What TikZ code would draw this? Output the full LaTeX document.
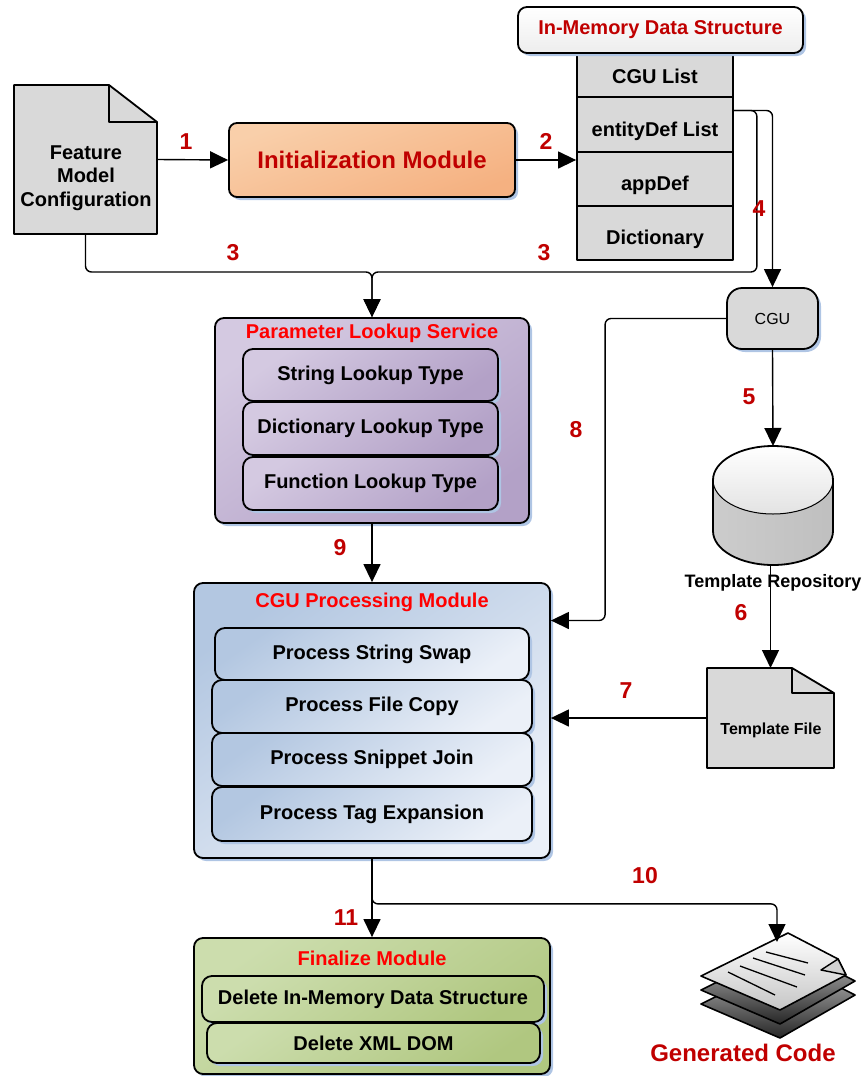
\documentclass[tikz,border=0pt]{standalone}
\usepackage{fontspec}
\setmainfont{Liberation Sans}
\usetikzlibrary{arrows.meta,shadows,calc}

\definecolor{numred}{HTML}{C00000}
\definecolor{titlered}{HTML}{FF0000}
\definecolor{docgray}{HTML}{D9D9D9}
\definecolor{shadowblue}{HTML}{AFC5E4}
\definecolor{orangeA}{HTML}{F9CFAA}
\definecolor{orangeB}{HTML}{F5B181}
\definecolor{purpleA}{HTML}{D4C9E1}
\definecolor{purpleB}{HTML}{B3A1C7}
\definecolor{blueA}{HTML}{B3C7E1}
\definecolor{blueB}{HTML}{EBF0F8}
\definecolor{greenA}{HTML}{CCDDAD}
\definecolor{greenB}{HTML}{B0C780}

\tikzset{
  base/.style={font=\fontsize{20}{23.5}\selectfont\bfseries, text=black},
  framed/.style={draw=black, line width=1.8pt},
  shad/.style={drop shadow={shadow xshift=3pt, shadow yshift=-3pt, fill=shadowblue, opacity=1}},
  conn/.style={line width=1.4pt, draw=black, rounded corners=6pt},
  arr/.style={conn, -{Triangle[length=18pt,width=17pt]}},
  num/.style={font=\fontsize{23}{26}\selectfont\bfseries, text=numred},
  title/.style={font=\fontsize{20}{23}\selectfont\bfseries, text=titlered},
  anchorbox/.style={inner sep=0pt, outer sep=0pt},
  stackrow/.style={framed, fill=docgray, minimum width=156pt, inner sep=0pt},
  purplebox/.style={framed, rounded corners=10pt, top color=purpleA, bottom color=purpleB, shading angle=35, shad, inner sep=0pt},
  bluebox/.style={framed, rounded corners=10pt, top color=blueA, bottom color=blueB, shading angle=35, shad, inner sep=0pt},
  greenbox/.style={framed, rounded corners=10pt, top color=greenA, bottom color=greenB, shading angle=35, shad, inner sep=0pt},
}

\begin{document}
\begin{tikzpicture}[x=1pt, y=-1pt, line join=round]
\useasboundingbox (0,0) rectangle (865,1076);

% ---------- Feature model configuration (document shape)
\node[anchorbox, minimum width=143pt, minimum height=149pt] (fmc) at (85.5,159.5) {};
\draw[framed, fill=docgray] (fmc.north west) -- ([xshift=-48pt]fmc.north east)
  -- ([yshift=-37pt]fmc.north east) -- (fmc.south east) -- (fmc.south west) -- cycle;
\draw[framed] ([xshift=-48pt]fmc.north east) |- ([yshift=-37pt]fmc.north east);
\node[base, align=center] (fmctext) at (86,178) {Feature\\Model\\Configuration};

% ---------- Initialization module
\node[framed, rounded corners=8pt, minimum width=286pt, minimum height=74pt,
      top color=orangeA, bottom color=orangeB, shading angle=20, shad,
      font=\fontsize{24}{28}\selectfont\bfseries, text=numred] (init) at (372,160) {Initialization Module};

% ---------- In-memory data structure
\node[stackrow, minimum height=44pt] (cgulist) at (655,75) {};
\node[stackrow, minimum height=55pt] (entity) at (655,124.5) {};
\node[stackrow, minimum height=54pt] (appdef) at (655,179) {};
\node[stackrow, minimum height=54pt] (dict) at (655,233) {};
\node[base] (cgulisttext) at (655,76) {CGU List};
\node[base] (entitytext) at (655,131) {entityDef List};
\node[base] (appdeftext) at (655,185) {appDef};
\node[base] (dicttext) at (655,239) {Dictionary};
\node[framed, rounded corners=9pt, minimum width=285pt, minimum height=46pt,
      top color=white, bottom color=gray!14, shad, base, text=numred] (memhdr) at (660.5,30) {In-Memory Data Structure};

% ---------- CGU
\node[framed, rounded corners=15pt, fill=docgray, minimum width=91pt, minimum height=61pt, shad,
      font=\fontsize{16}{19}\selectfont] (cgu) at (772.5,318.5) {CGU};

% ---------- Template repository (cylinder)
\node[anchorbox, minimum width=120pt, minimum height=119pt] (repo) at (773,505.5) {};
\fill[left color=gray!40, middle color=gray!8, right color=gray!50]
  (713,480) -- (713,531) arc[start angle=180, end angle=360, x radius=60pt, y radius=34pt] -- (833,480) -- cycle;
\fill[top color=white, bottom color=gray!22] (773,480) ellipse[x radius=60pt, y radius=34pt];
\draw[framed] (713,480) -- (713,531) arc[start angle=180, end angle=360, x radius=60pt, y radius=34pt] -- (833,480)
  arc[start angle=0, end angle=180, x radius=60pt, y radius=34pt];
\draw[line width=1pt] (713,480) arc[start angle=180, end angle=360, x radius=60pt, y radius=34pt];
\node[font=\fontsize{18}{21}\selectfont\bfseries] (repolabel) at (773,583) {Template Repository};

% ---------- Template file (document shape)
\node[anchorbox, minimum width=127pt, minimum height=100pt] (tfile) at (770.5,718) {};
\draw[framed, fill=docgray] (tfile.north west) -- ([xshift=-42pt]tfile.north east)
  -- ([yshift=-25pt]tfile.north east) -- (tfile.south east) -- (tfile.south west) -- cycle;
\draw[framed] ([xshift=-42pt]tfile.north east) |- ([yshift=-25pt]tfile.north east);
\node[font=\fontsize{16}{19}\selectfont\bfseries] (tfiletext) at (771,730) {Template File};

% ---------- Parameter lookup service
\node[framed, rounded corners=9pt, minimum width=314pt, minimum height=205pt,
      top color=purpleA, bottom color=purpleB, shading angle=35, shad] (pls) at (372,420.5) {};
\node[title] (plstitle) at (372,333) {Parameter Lookup Service};
\node[purplebox, minimum width=255pt, minimum height=52pt, base] (plsa) at (370.5,375) {String Lookup Type};
\node[purplebox, minimum width=255pt, minimum height=53pt, base] (plsb) at (370.5,428.5) {Dictionary Lookup Type};
\node[purplebox, minimum width=255pt, minimum height=53pt, base] (plsc) at (370.5,483.5) {Function Lookup Type};

% ---------- CGU processing module
\node[framed, rounded corners=9pt, minimum width=356pt, minimum height=275pt,
      top color=blueA, bottom color=blueB, shading angle=35, shad] (cpm) at (372,720.5) {};
\node[title] (cpmtitle) at (372,602) {CGU Processing Module};
\node[bluebox, minimum width=314pt, minimum height=52pt, base] (cpma) at (372,654) {Process String Swap};
\node[bluebox, minimum width=320pt, minimum height=53pt, base] (cpmb) at (372,706.5) {Process File Copy};
\node[bluebox, minimum width=320pt, minimum height=53pt, base] (cpmc) at (372,759.5) {Process Snippet Join};
\node[bluebox, minimum width=320pt, minimum height=54pt, base] (cpmd) at (372,814) {Process Tag Expansion};

% ---------- Finalize module
\node[framed, rounded corners=9pt, minimum width=356pt, minimum height=136pt,
      top color=greenA, bottom color=greenB, shading angle=35, shad] (fin) at (372,1006) {};
\node[title] (fintitle) at (372,958) {Finalize Module};
\node[greenbox, minimum width=342pt, minimum height=46pt, base] (fina) at (373,999) {Delete In-Memory Data Structure};
\node[greenbox, minimum width=333pt, minimum height=40pt, base] (finb) at (373.5,1043) {Delete XML DOM};

% ---------- Generated code (stack of pages)
\coordinate (gentop) at (777,942);
\foreach \dy in {28,14}{
  \draw[line width=1.6pt, top color=gray!45, bottom color=black!85]
    (701,976+\dy) -- (788,933+\dy) -- (855,967+\dy) -- (780,1010+\dy) -- cycle;
}
\draw[line width=1.6pt, top color=white, bottom color=gray!45]
  (701,976) -- (788,933) -- (838,959) -- (846,975) -- (780,1010) -- cycle;
\draw[line width=1.4pt, fill=gray!35] (838,959) -- (846,975) -- (821,970) -- cycle;
\draw[line width=1.3pt] (766,952) -- (808,963);
\draw[line width=1.3pt] (753,958) -- (805,975);
\draw[line width=1.3pt] (740,966) -- (797,987);
\draw[line width=1.3pt] (728,972) -- (775,995);
\node[font=\fontsize{24}{28}\selectfont\bfseries, text=numred] (gentext) at (743,1053) {Generated Code};

% ---------- Connectors
\coordinate (merge) at (372,272);
\draw[arr] (fmc.east) -- (init.west);
\draw[arr] (init.east) -- (init.east -| appdef.west);
\draw[arr] (fmc.south) |- (merge) -- (pls.north);
\draw[arr] ([yshift=14pt]entity.east) -- ++(23,0) |- (merge) -- (pls.north);
\draw[arr] ([yshift=14pt]entity.east) -| (cgu.north);
\draw[arr] (cgu.south) -- (repo.north);
\draw[arr] (repo.south -| tfile.north) -- (tfile.north);
\draw[arr] (tfile.west) -- (tfile.west -| cpm.east);
\draw[arr] (cgu.west) -- ++(-121,0) |- ([yshift=100pt]cpm.east);
\draw[arr] (pls.south) -- (cpm.north);
\draw[arr] (cpm.south) -- (fin.north);
\draw[arr] (cpm.south) -- ++(0,45) -| (gentop);

% ---------- Step numbers
\node[num] (n1) at (186,142) {1};
\node[num] (n2) at (546,141) {2};
\node[num] (n3a) at (233,253) {3};
\node[num] (n3b) at (544,253) {3};
\node[num] (n4) at (759,209) {4};
\node[num] (n5) at (749,397) {5};
\node[num] (n6) at (741,613) {6};
\node[num] (n7) at (626,691) {7};
\node[num] (n8) at (576,430) {8};
\node[num] (n9) at (340,548) {9};
\node[num] (n10) at (645,876) {10};
\node[num] (n11) at (346,918) {11};
\end{tikzpicture}
\end{document}
